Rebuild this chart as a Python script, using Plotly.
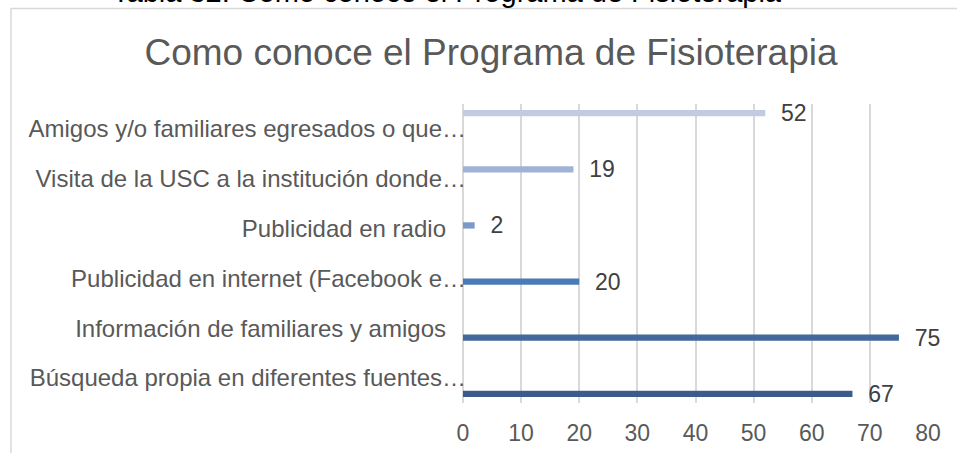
import plotly.graph_objects as go

# Data (bottom-to-top order, as in the chart)
categories = [
    "Búsqueda propia en diferentes fuentes…",
    "Información de familiares y amigos",
    "Publicidad en internet (Facebook e…",
    "Publicidad en radio",
    "Visita de la USC a la institución donde…",
    "Amigos y/o familiares egresados o que…",
]
values = [67, 75, 20, 2, 19, 52]
colors = ["#3b5c8a", "#41699c", "#4a7bb7", "#7c99ca", "#a0b3d6", "#c1cce2"]
x_ticks = [0, 10, 20, 30, 40, 50, 60, 70, 80]

title_text = "Como conoce el Programa de Fisioterapia"
header_text = "Tabla 32. Como conoce el Programa de Fisioterapia"

FONT = "Liberation Sans, Arial, sans-serif"
GRAY = "#595959"

# pad untruncated labels so their right edges line up like the reference
def pad(lbl):
    return lbl if lbl.endswith("…") else lbl + "\u00a0\u00a0\u00a0"

fig = go.Figure()
n = len(categories)
for i, cat in enumerate(categories):
    xs = [values[i] if j == i else None for j in range(n)]
    fig.add_trace(go.Bar(
        x=xs, y=categories, orientation="h",
        marker=dict(color=colors[i], line=dict(width=0)),
        texttemplate="\u00a0\u00a0%{x}",
        textposition="outside",
        constraintext="none",
        cliponaxis=False,
        textfont=dict(family=FONT, size=23, color="#404040"),
        showlegend=False,
        hoverinfo="skip",
    ))

fig.update_layout(
    width=957, height=453,
    margin=dict(l=463, r=29, t=104, b=50, autoexpand=False),
    paper_bgcolor="white", plot_bgcolor="white",
    barmode="group", bargap=0.24, bargroupgap=0,
    font=dict(family=FONT, color=GRAY),
    title=dict(text=title_text, x=491 / 957, xanchor="center",
               y=1 - 52 / 453, yanchor="middle",
               font=dict(family=FONT, size=37, color=GRAY)),
    xaxis=dict(range=[0, 80], tickvals=x_ticks, showgrid=True,
               gridcolor="#d9d9d9", gridwidth=1.5,
               zeroline=True, zerolinecolor="#d9d9d9", zerolinewidth=1.5,
               showline=False, ticks="", ticklabelstandoff=14,
               automargin=False,
               tickfont=dict(family=FONT, size=23, color=GRAY)),
    yaxis=dict(categoryorder="array", categoryarray=categories,
               tickvals=categories, ticktext=[pad(c) for c in categories],
               showgrid=False, zeroline=False, showline=False, ticks="",
               ticklabelstandoff=-4, automargin=False,
               tickfont=dict(family=FONT, size=24, color=GRAY)),
)

# header text cut off at the top
fig.add_annotation(text=header_text, xref="paper", yref="paper",
                   x=(447 - 463) / 465, y=1 + (104 - 10) / 299,
                   xanchor="center", yanchor="bottom", showarrow=False,
                   font=dict(family=FONT, size=29, color="black"))

# chart border
fig.add_shape(type="rect", xref="paper", yref="paper",
              x0=(11 - 463) / 465, x1=1.2,
              y0=-0.5, y1=1 + (104 - 8.5) / 299,
              line=dict(color="#d9d9d9", width=1.5), layer="below")

fig.write_html("out.html",
               config={"displayModeBar": False},
               post_script="document.body.style.margin='0px';")
